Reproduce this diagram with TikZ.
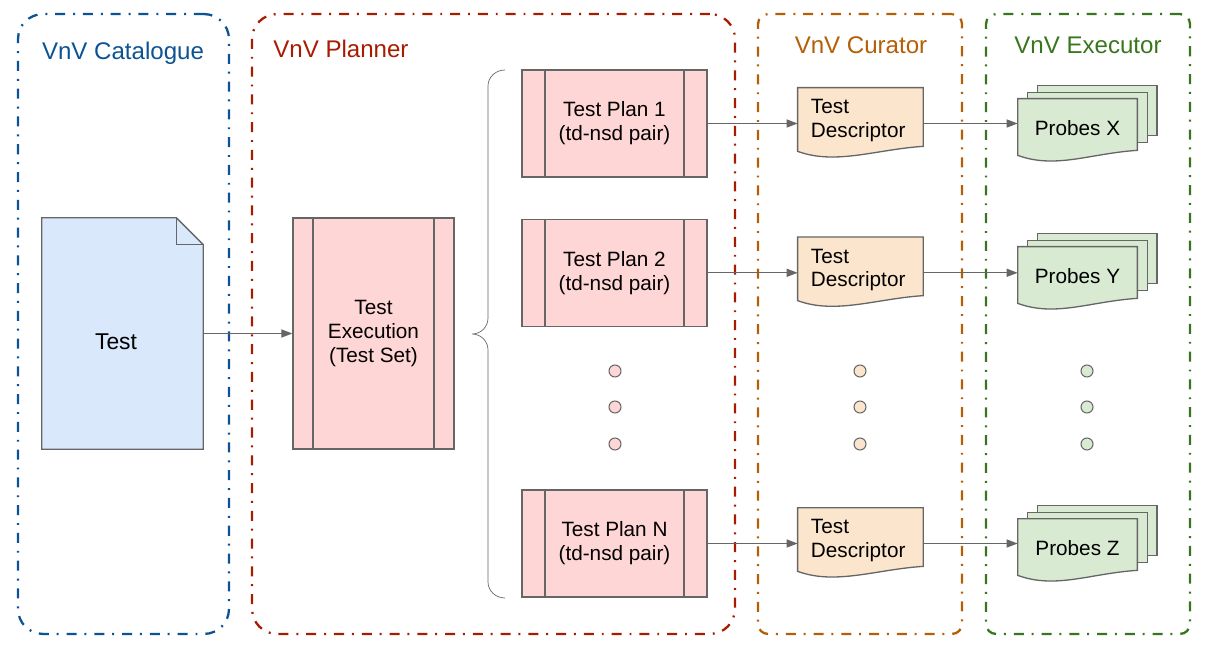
\documentclass[tikz,border=0pt]{standalone}
\usepackage{fontspec}
\setmainfont{Liberation Sans}
\usetikzlibrary{arrows.meta, positioning, backgrounds}

\definecolor{linegray}{HTML}{666666}
\definecolor{catblue}{HTML}{0B5394}
\definecolor{plnred}{HTML}{A61C00}
\definecolor{curorange}{HTML}{B45F06}
\definecolor{exegreen}{HTML}{38761D}
\definecolor{docblue}{HTML}{DAE8FC}
\definecolor{planpink}{HTML}{FFD6D6}
\definecolor{tdpeach}{HTML}{FCE5CD}
\definecolor{probegreen}{HTML}{D9EAD3}

% document with wavy bottom round node #1, filled with #2
\newcommand{\wavedoc}[2]{%
  \draw[linegray, line width=0.75pt, fill=#2]
    (#1.north west) -- (#1.north east) -- ([yshift=0.14cm]#1.south east)
    .. controls ([xshift=-0.94cm,yshift=0.08cm]#1.south east)
       and ([xshift=0.76cm,yshift=-0.24cm]#1.south west) .. ([yshift=0.04cm]#1.south west) -- cycle;}
% three stacked documents behind node #1
\newcommand{\probestack}[1]{%
  \draw[linegray, line width=0.75pt, fill=probegreen]
    ([shift={(0.39cm,0.26cm)}]#1.north west) rectangle ([shift={(0.39cm,0.44cm)}]#1.south east);
  \draw[linegray, line width=0.75pt, fill=probegreen]
    ([shift={(0.2cm,0.12cm)}]#1.north west) rectangle ([shift={(0.2cm,0.30cm)}]#1.south east);
  \wavedoc{#1}{probegreen}}

\begin{document}
\begin{tikzpicture}[
    x=0.02cm, y=-0.02cm,
    node distance=0.82cm,
    lane/.style={rectangle, draw=#1, line width=1.3pt,
                 dash pattern=on 5.7pt off 4.5pt on 1.1pt off 4.5pt,
                 minimum height=12.4cm},
    ttl/.style={font=\fontsize{13.7}{16}\selectfont, inner sep=0pt, anchor=base},
    proc/.style={rectangle, draw=linegray, line width=0.75pt, fill=planpink,
                 align=center, font=\fontsize{11.8}{13.7}\selectfont,
                 path picture={
                   \draw[linegray, line width=0.75pt]
                     ([xshift=#1]path picture bounding box.north west) --
                     ([xshift=#1]path picture bounding box.south west)
                     ([xshift=-#1]path picture bounding box.north east) --
                     ([xshift=-#1]path picture bounding box.south east);}},
    plan/.style={proc=0.46cm, minimum width=3.7cm, minimum height=2.14cm},
    doc/.style={rectangle, align=left, font=\fontsize{11.8}{13.4}\selectfont},
    td/.style={doc, text width=1.98cm, inner xsep=0.26cm, minimum height=1.3cm},
    probe/.style={doc, align=center, minimum width=2.38cm, minimum height=1.16cm},
    dot/.style={circle, draw=linegray, line width=0.6pt, fill=#1,
                minimum size=0.24cm, inner sep=0pt},
    arr/.style={-{Triangle[length=6.3pt, width=4.6pt]}, draw=linegray, line width=0.75pt}
]
  \useasboundingbox (0,0) rectangle (1206,659);

  % lanes
  \node[lane=catblue, rounded corners=0.5cm, minimum width=4.22cm]   (cat)  at (123.5,324) {};
  \node[lane=plnred, rounded corners=0.5cm, minimum width=9.66cm]    (plnr) at (493.5,324) {};
  \node[lane=curorange, rounded corners=0.2cm, minimum width=4.08cm] (cur)  at (860,324) {};
  \node[lane=exegreen, rounded corners=0.2cm, minimum width=4.08cm]  (exe)  at (1088,324) {};

  \node[ttl, text=catblue]               (cattitle)  at (123,59)  {VnV Catalogue};
  \node[ttl, text=plnred, anchor=base west] (plnrtitle) at (273,57) {VnV Planner};
  \node[ttl, text=curorange]             (curtitle)  at (861,53)  {VnV Curator};
  \node[ttl, text=exegreen]              (exetitle)  at (1088,53) {VnV Executor};

  % catalogue
  \node[doc, font=\fontsize{13}{15}\selectfont, minimum width=3.22cm, minimum height=4.62cm]
    (test) at (122.5,333.5) {\hspace*{-0.26cm}\raisebox{-0.31cm}[0pt][0pt]{Test}};

  % planner
  \node[proc=0.4cm, minimum width=3.22cm, minimum height=4.62cm] (exec) at (373.5,333.5)
    {Test\\Execution\\(Test Set)};
  \node[plan] (plan1) at (614.5,123.5) {Test Plan 1\\(td-nsd pair)};
  \node[plan, below=of plan1] (plan2) {Test Plan 2\\(td-nsd pair)};
  \node[plan] (planN) at (614.5,543.5) {Test Plan N\\(td-nsd pair)};

  \draw[linegray] (505,70) to[out=180,in=90] (488,86) -- (488,318)
    to[out=-90,in=0] (472,334) to[out=0,in=90] (488,350) -- (488,582)
    to[out=-90,in=180] (505,598);

  % curator
  \node[td, right=1.8cm of plan1, yshift=0.06cm] (td1) {Test\\Descriptor};
  \node[td, right=1.8cm of plan2, yshift=0.06cm] (td2) {Test\\Descriptor};
  \node[td, right=1.8cm of planN, yshift=0.06cm] (tdN) {Test\\Descriptor};

  % executor
  \node[probe] (px) at (1077.5,128) {Probes X};
  \node[probe] (py) at (1077.5,276) {Probes Y};
  \node[probe] (pz) at (1077.5,548) {Probes Z};

  \foreach \y [count=\i] in {371,407,444} {
    \node[dot=planpink]   (pdot\i) at (615,\y) {};
    \node[dot=tdpeach]    (cdot\i) at (860,\y) {};
    \node[dot=probegreen] (edot\i) at (1087,\y) {};
  }

  \begin{scope}[on background layer]
    \draw[linegray, line width=0.75pt, fill=docblue] (test.north west)
      -- ([xshift=-0.54cm]test.north east) -- ([yshift=-0.54cm]test.north east)
      -- (test.south east) -- (test.south west) -- cycle;
    \draw[linegray, line width=0.75pt] ([xshift=-0.54cm]test.north east)
      |- ([yshift=-0.54cm]test.north east);
    \wavedoc{td1}{tdpeach}
    \wavedoc{td2}{tdpeach}
    \wavedoc{tdN}{tdpeach}
    \probestack{px}
    \probestack{py}
    \probestack{pz}
  \end{scope}

  \draw[arr] (test) -- (exec);
  \draw[arr] (plan1) -- (plan1 -| td1.west);
  \draw[arr] (plan2) -- (plan2 -| td2.west);
  \draw[arr] (planN) -- (planN -| tdN.west);
  \draw[arr] (plan1 -| td1.east) -- (plan1 -| px.west);
  \draw[arr] (plan2 -| td2.east) -- (plan2 -| py.west);
  \draw[arr] (planN -| tdN.east) -- (planN -| pz.west);
\end{tikzpicture}
\end{document}
